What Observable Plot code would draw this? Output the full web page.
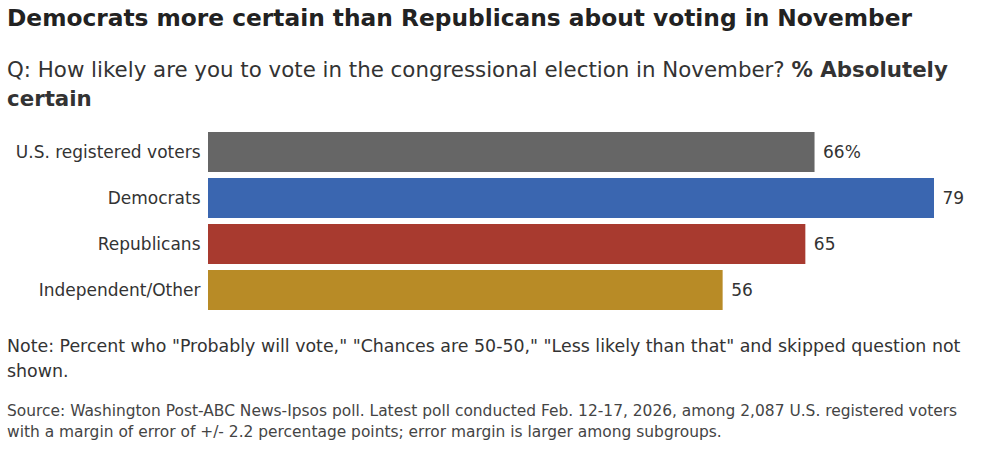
<!DOCTYPE html>
<html>
<head>
<meta charset="utf-8">
<script src="https://cdn.jsdelivr.net/npm/d3@7"></script>
<script src="https://cdn.jsdelivr.net/npm/@observablehq/plot@0.6"></script>
<style>
  html, body { margin: 0; padding: 0; background: #fff; }
  body { position: relative; width: 987px; height: 457px; overflow: hidden; font-family: "DejaVu Sans", sans-serif; color: #2a2a2a; }
  .abs { position: absolute; left: 7px; margin: 0; white-space: nowrap; }
  h1 { top: 4px; font-size: 23.3px; font-weight: bold; line-height: 28px; color: #222; }
  .sub { top: 55px; font-size: 21.35px; line-height: 29px; color: #333; }
  .note { top: 334px; font-size: 17.4px; line-height: 25px; color: #333; }
  .src { top: 401px; font-size: 15.45px; line-height: 21px; color: #444; }
  #chart { position: absolute; left: 0; top: 120px; }
  #chart svg { display: block; }
</style>
</head>
<body>
  <h1 class="abs">Democrats more certain than Republicans about voting in November</h1>
  <div class="abs sub">Q: How likely are you to vote in the congressional election in November? <b>% Absolutely</b><br><b>certain</b></div>
  <div id="chart"></div>
  <div class="abs note">Note: Percent who "Probably will vote," "Chances are 50-50," "Less likely than that" and skipped question not<br>shown.</div>
  <div class="abs src">Source: Washington Post-ABC News-Ipsos poll. Latest poll conducted Feb. 12-17, 2026, among 2,087 U.S. registered voters<br>with a margin of error of +/- 2.2 percentage points; error margin is larger among subgroups.</div>
<script>
const groups = ["U.S. registered voters", "Democrats", "Republicans", "Independent/Other"];
const values = [66, 79, 65, 56];
const labels = ["66%", "79", "65", "56"];
const colors = ["#666666", "#3a66b0", "#a83a2f", "#b88b26"];

const data = groups.map((g, i) => ({group: g, value: values[i], label: labels[i]}));

const chart = Plot.plot({
  width: 987,
  height: 201,
  marginTop: 11,
  marginBottom: 10,
  marginLeft: 208,
  marginRight: 53,
  style: {fontFamily: "DejaVu Sans, sans-serif", fontSize: "17px", color: "#333", background: "#fff"},
  x: {domain: [0, 79], axis: null},
  y: {domain: groups, paddingInner: 0.13, paddingOuter: 0, label: null},
  color: {domain: groups, range: colors},
  marks: [
    Plot.barX(data, {y: "group", x: "value", fill: "group"}),
    Plot.text(data, {y: "group", x: "value", text: "label", textAnchor: "start", dx: 8, fill: "#333", fontSize: 17}),
    Plot.axisY({tickSize: 0, tickPadding: 8, fontSize: 17, label: null, fill: "#333"})
  ]
});
document.getElementById("chart").appendChild(chart);
</script>
</body>
</html>
